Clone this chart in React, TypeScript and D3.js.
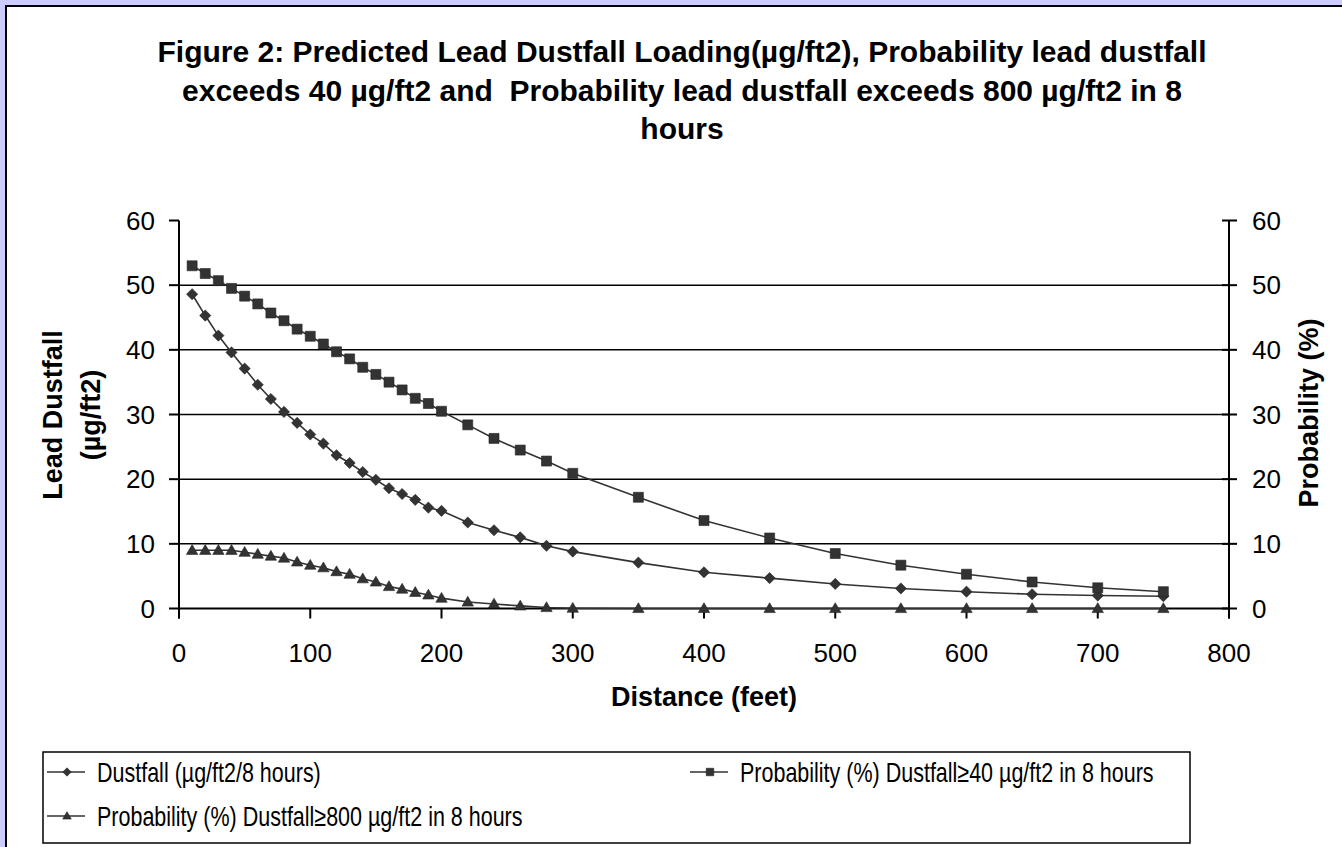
import React from "react";
import * as d3 from "d3";

const distances = [10, 20, 30, 40, 50, 60, 70, 80, 90, 100, 110, 120, 130, 140, 150, 160, 170, 180, 190, 200, 220, 240, 260, 280, 300, 350, 400, 450, 500, 550, 600, 650, 700, 750];
const dustfall = [48.6, 45.3, 42.2, 39.6, 37.1, 34.6, 32.4, 30.4, 28.7, 26.9, 25.5, 23.7, 22.5, 21.1, 19.9, 18.6, 17.7, 16.8, 15.6, 15.1, 13.3, 12.1, 11.0, 9.7, 8.8, 7.1, 5.6, 4.7, 3.8, 3.1, 2.6, 2.2, 2.0, 1.9];
const prob40 = [53.0, 51.8, 50.7, 49.5, 48.3, 47.1, 45.7, 44.5, 43.2, 42.1, 40.9, 39.7, 38.6, 37.3, 36.2, 35.0, 33.8, 32.5, 31.7, 30.5, 28.4, 26.3, 24.5, 22.8, 20.9, 17.2, 13.6, 10.9, 8.5, 6.7, 5.3, 4.1, 3.2, 2.6];
const prob800 = [9.0, 9.0, 9.0, 9.0, 8.7, 8.4, 8.1, 7.8, 7.2, 6.7, 6.3, 5.7, 5.3, 4.6, 4.1, 3.4, 3.0, 2.5, 2.1, 1.6, 1.0, 0.7, 0.4, 0.15, 0.05, 0, 0, 0, 0, 0, 0, 0, 0, 0];

const xTicks = [0, 100, 200, 300, 400, 500, 600, 700, 800];
const yTicks = [0, 10, 20, 30, 40, 50, 60];

const titleLines = [
  "Figure 2: Predicted Lead Dustfall Loading(µg/ft2), Probability lead dustfall",
  "exceeds 40 µg/ft2 and  Probability lead dustfall exceeds 800 µg/ft2 in 8",
  "hours",
];
const leftTitle = ["Lead Dustfall", "(µg/ft2)"];
const rightTitle = "Probability (%)";
const xTitle = "Distance (feet)";
const seriesNames = [
  "Dustfall (µg/ft2/8 hours)",
  "Probability (%) Dustfall≥40 µg/ft2 in 8 hours",
  "Probability (%) Dustfall≥800 µg/ft2 in 8 hours",
];

const FONT = "'Liberation Sans', Arial, sans-serif";
const INK = "#333333";

function Marker({ kind, cx, cy, scale = 1 }: { kind: string; cx: number; cy: number; scale?: number }) {
  if (kind === "square") {
    const p = d3.symbol().type(d3.symbolSquare).size(100 * scale * scale)();
    return <path d={p || ""} transform={`translate(${cx},${cy})`} fill={INK} stroke="#222" strokeWidth={0.6} />;
  }
  if (kind === "diamond") {
    const p = d3.symbol().type(d3.symbolSquare).size(62 * scale * scale)();
    return <path d={p || ""} transform={`translate(${cx},${cy}) rotate(45)`} fill={INK} stroke="#222" strokeWidth={0.6} />;
  }
  const p = d3.symbol().type(d3.symbolTriangle).size(56 * scale * scale)();
  return <path d={p || ""} transform={`translate(${cx},${cy + 0.8 * scale})`} fill={INK} stroke="#222" strokeWidth={0.6} />;
}

export default function App() {
  const x = d3.scaleLinear().domain([0, 800]).range([179, 1229]);
  const y = d3.scaleLinear().domain([0, 60]).range([608.5, 220.5]);
  const [x0, x1] = x.range();

  const series = [
    { name: seriesNames[0], values: dustfall, kind: "diamond" },
    { name: seriesNames[1], values: prob40, kind: "square" },
    { name: seriesNames[2], values: prob800, kind: "triangle" },
  ];

  const line = (vals: number[]) =>
    d3.line<number>().x((_, i) => x(distances[i])).y((d) => y(d))(vals) || "";

  const legendItems = [
    { s: series[0], lx: 47, ly: 772 },
    { s: series[1], lx: 690, ly: 772 },
    { s: series[2], lx: 47, ly: 816 },
  ];

  return (
    <svg
      width={1342}
      height={847}
      style={{ position: "fixed", left: 0, top: 0, display: "block" }}
      fontFamily={FONT}
    >
      <rect x={0} y={0} width={1342} height={847} fill="#CCCCFF" />
      <rect x={6} y={6} width={1400} height={900} fill="#FFFFFF" stroke="#000" strokeWidth={2} />

      {titleLines.map((t, i) => (
        <text
          key={i}
          x={682}
          y={62 + i * 38.5}
          textAnchor="middle"
          fontSize={30}
          fontWeight="bold"
          style={{ whiteSpace: "pre" }}
        >
          {t}
        </text>
      ))}

      {/* gridlines */}
      {yTicks.filter((t) => t > 0 && t < 60).map((t) => (
        <line key={t} x1={x0} x2={x1} y1={y(t)} y2={y(t)} stroke="#000" strokeWidth={1.5} />
      ))}

      {/* axes */}
      <line x1={x0} x2={x1} y1={y(0)} y2={y(0)} stroke="#000" strokeWidth={2} />
      <line x1={x0} x2={x0} y1={y(60)} y2={y(0) + 10} stroke="#000" strokeWidth={2} />
      <line x1={x1} x2={x1} y1={y(60)} y2={y(0) + 10} stroke="#000" strokeWidth={2} />
      {yTicks.map((t) => (
        <g key={t}>
          <line x1={x0 - 10} x2={x0} y1={y(t)} y2={y(t)} stroke="#000" strokeWidth={2} />
          <line x1={x1 - 7} x2={x1 + 8} y1={y(t)} y2={y(t)} stroke="#000" strokeWidth={2} />
          <text x={x0 - 24} y={y(t)} dy="0.35em" textAnchor="end" fontSize={26}>{t}</text>
          <text x={x1 + 23} y={y(t)} dy="0.35em" textAnchor="start" fontSize={26}>{t}</text>
        </g>
      ))}
      {xTicks.map((t) => (
        <g key={t}>
          <line x1={x(t)} x2={x(t)} y1={y(0)} y2={y(0) + 10} stroke="#000" strokeWidth={2} />
          <text x={x(t)} y={662} textAnchor="middle" fontSize={26}>{t}</text>
        </g>
      ))}

      {/* axis titles */}
      {leftTitle.map((t, i) => (
        <text
          key={i}
          transform={`translate(${62 + i * 38},415) rotate(-90)`}
          textAnchor="middle"
          fontSize={27}
          fontWeight="bold"
        >
          {t}
        </text>
      ))}
      <text transform={`translate(1318,413) rotate(-90)`} textAnchor="middle" fontSize={27} fontWeight="bold">
        {rightTitle}
      </text>
      <text x={(x0 + x1) / 2} y={706} textAnchor="middle" fontSize={27} fontWeight="bold">
        {xTitle}
      </text>

      {/* series */}
      {series.map((s) => (
        <g key={s.name}>
          <path d={line(s.values)} fill="none" stroke={INK} strokeWidth={1.6} />
          {s.values.map((v, i) => (
            <Marker key={i} kind={s.kind} cx={x(distances[i])} cy={y(v)} />
          ))}
        </g>
      ))}

      {/* legend */}
      <rect x={43} y={752} width={1147} height={91} fill="#fff" stroke="#000" strokeWidth={1.5} />
      {legendItems.map(({ s, lx, ly }) => (
        <g key={s.name}>
          <line x1={lx} x2={lx + 38} y1={ly} y2={ly} stroke={INK} strokeWidth={1.6} />
          <Marker kind={s.kind} cx={lx + 20} cy={ly} scale={0.75} />
          <text transform={`translate(${lx + 50},${ly + 10}) scale(1,1.3)`} fontSize={21.5}>
            {s.name}
          </text>
        </g>
      ))}
    </svg>
  );
}
